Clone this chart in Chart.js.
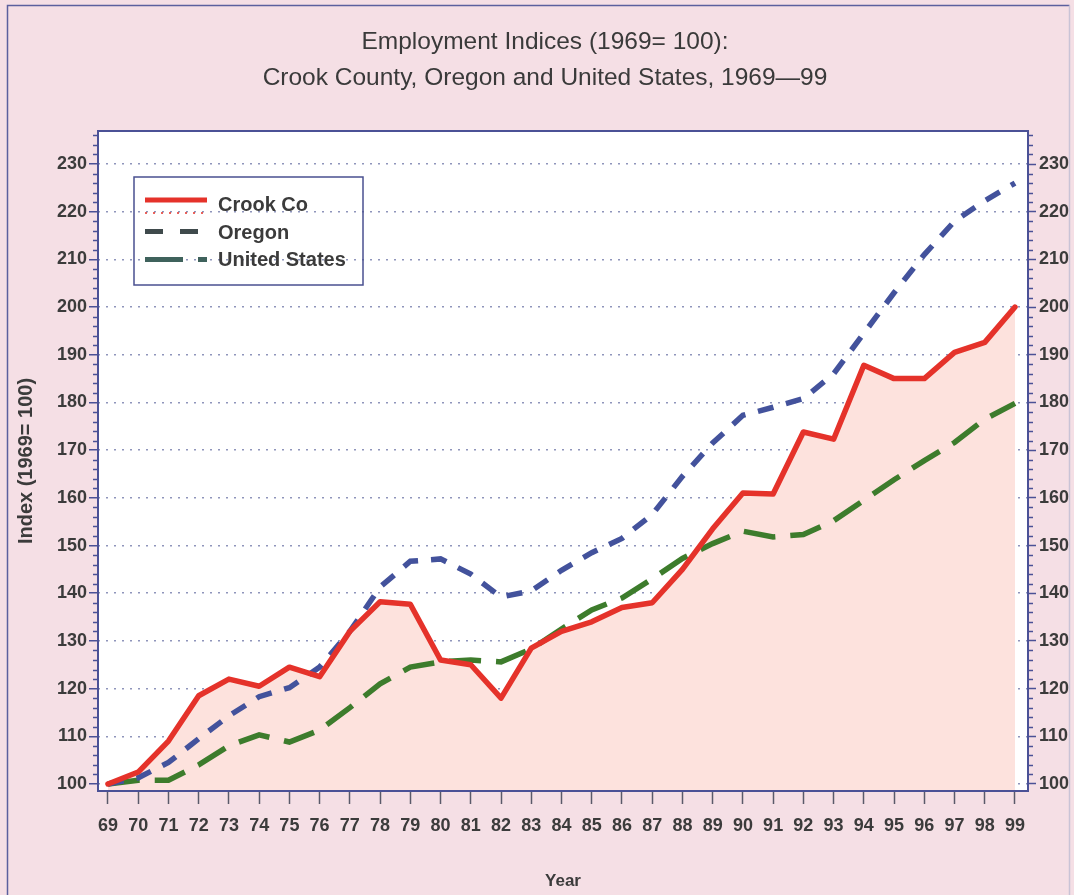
<!DOCTYPE html>
<html>
<head>
<meta charset="utf-8">
<script src="https://cdn.jsdelivr.net/npm/chart.js@4"></script>
<style>
html,body{margin:0;padding:0;background:#f5dfe5;}
#wrap{width:1074px;height:895px;position:relative;}
canvas{display:block;}
</style>
</head>
<body>
<div id="wrap"><canvas id="c" width="1074" height="895"></canvas></div>
<script>
// ---------- data ----------
const years = [69,70,71,72,73,74,75,76,77,78,79,80,81,82,83,84,85,86,87,88,89,90,91,92,93,94,95,96,97,98,99];
const crookCo = [100,102.5,109,118.5,122,120.5,124.5,122.5,132,138.2,137.7,126,125,118,128.5,132,134,137,138,145,153.5,161,160.8,173.8,172.3,187.8,185,185,190.5,192.6,200];
const oregon = [100,101.3,104.5,109.5,114.3,118.3,120.2,124.5,132,141.3,146.7,147.2,144,139.2,140.5,144.8,148.5,151.5,156.5,164.5,171.5,177.3,179,180.8,186,194.5,203,211,218,222.3,226];
const unitedStates = [100,100.8,100.8,104,108,110.3,108.8,111.3,116,121,124.5,125.6,126,125.6,128.3,132.5,136.5,139,143,147.3,150.4,153,151.8,152.3,155.2,159.5,163.8,167.8,171.6,176.5,179.8];
const yTickValues = [100,110,120,130,140,150,160,170,180,190,200,210,220,230];
const seriesNames = ['Crook Co','Oregon','United States'];
const titleLines = ['Employment Indices (1969= 100):','Crook County, Oregon and United States, 1969\u201499'];
const xTitle = 'Year';
const yTitle = 'Index (1969= 100)';

// ---------- helpers ----------
function hasFont(name){
  const c = document.createElement('canvas').getContext('2d');
  const s = '0123456789 abcdefghij ABC';
  c.font = 'bold 40px monospace'; const w1 = c.measureText(s).width;
  c.font = 'bold 40px "' + name + '", monospace'; const w2 = c.measureText(s).width;
  return Math.abs(w1 - w2) > 0.5;
}
const NARROW = hasFont('Liberation Sans Narrow');
const tickFont = NARROW ? {family:'"Liberation Sans Narrow"', size:21, weight:'bold'}
                        : {family:'"Liberation Sans", Arial, sans-serif', size:18, weight:'bold'};
const yearFont = NARROW ? {family:'"Liberation Sans Narrow"', size:20, weight:'bold'}
                        : {family:'"Liberation Sans", Arial, sans-serif', size:17, weight:'bold'};
const textColor = '#3b3b3b';
const axisColor = '#4b5196';
const toPoints = arr => arr.map((v,i) => ({x: years[i], y: v}));

const X_MIN = 68.67, X_MAX = 99.43, Y_MIN = 98.53, Y_MAX = 236.92;

// ---------- plugins ----------
const backgroundPlugin = {
  id: 'bgPlugin',
  beforeDraw(chart){
    const {ctx, chartArea:a} = chart;
    ctx.save();
    ctx.fillStyle = '#f5dfe5';
    ctx.fillRect(0,0,chart.width,chart.height);
    ctx.fillStyle = '#ffffff';
    ctx.fillRect(a.left, a.top, a.right-a.left, a.bottom-a.top);
    ctx.restore();
  },
  afterDraw(chart){
    const {ctx, chartArea:a} = chart;
    ctx.save();
    ctx.strokeStyle = axisColor;
    ctx.lineWidth = 2;
    ctx.strokeRect(a.left, a.top, a.right-a.left, a.bottom-a.top);
    ctx.lineWidth = 1.5;
    ['y','y2'].forEach(id => {
      const s = chart.scales[id];
      for (let v = Math.ceil(s.min/2)*2; v <= s.max; v += 2){
        if (v % 10 === 0) continue;
        const py = Math.round(s.getPixelForValue(v)) + 0.5;
        ctx.beginPath();
        if (id === 'y'){ ctx.moveTo(a.left-5, py); ctx.lineTo(a.left, py); }
        else { ctx.moveTo(a.right, py); ctx.lineTo(a.right+5, py); }
        ctx.stroke();
      }
    });
    ctx.strokeStyle = '#5b609e';
    ctx.lineWidth = 1.5;
    ctx.beginPath();
    ctx.moveTo(7.5, chart.height); ctx.lineTo(7.5, 5.5); ctx.lineTo(1069.5, 5.5);
    ctx.stroke();
    ctx.strokeStyle = '#c9c3d6';
    ctx.beginPath(); ctx.moveTo(1069.5, 5.5); ctx.lineTo(1069.5, chart.height); ctx.stroke();
    ctx.restore();
  }
};

const legendPlugin = {
  id: 'boxLegend',
  afterDatasetsDraw(chart){
    const {ctx, chartArea:a} = chart;
    const bx = a.left + 36, by = a.top + 46, bw = 229, bh = 108;
    ctx.save();
    ctx.strokeStyle = '#4a5090';
    ctx.lineWidth = 1.5;
    ctx.strokeRect(bx, by, bw, bh);
    const sx = bx + 11, tx = bx + 84;
    const rows = [by + 28, by + 56, by + 83];
    ctx.lineCap = 'butt';
    ctx.strokeStyle = '#e5322a'; ctx.lineWidth = 5; ctx.setLineDash([]);
    ctx.beginPath(); ctx.moveTo(sx, rows[0]-5); ctx.lineTo(sx+62, rows[0]-5); ctx.stroke();
    ctx.lineWidth = 1.5; ctx.setLineDash([2,6]);
    ctx.beginPath(); ctx.moveTo(sx, rows[0]+8); ctx.lineTo(sx+62, rows[0]+8); ctx.stroke();
    ctx.strokeStyle = '#3f4a4c'; ctx.lineWidth = 5; ctx.setLineDash([18,17]);
    ctx.beginPath(); ctx.moveTo(sx, rows[1]-1.5); ctx.lineTo(sx+54, rows[1]-1.5); ctx.stroke();
    ctx.strokeStyle = '#3f625c'; ctx.setLineDash([38,15,9,100]);
    ctx.beginPath(); ctx.moveTo(sx, rows[2]-0.5); ctx.lineTo(sx+62, rows[2]-0.5); ctx.stroke();
    ctx.setLineDash([]);
    ctx.fillStyle = textColor;
    ctx.font = 'bold 20px "Liberation Sans", Arial, sans-serif';
    ctx.textBaseline = 'middle';
    ctx.textAlign = 'left';
    seriesNames.forEach((n,i) => ctx.fillText(n, tx, rows[i]));
    ctx.restore();
  }
};

// ---------- chart ----------
new Chart(document.getElementById('c'), {
  type: 'line',
  data: {
    datasets: [
      {label: seriesNames[0], data: toPoints(crookCo), borderColor:'#e5322a', backgroundColor:'#fde2dd',
       borderWidth:5.5, fill:'start', pointRadius:0, tension:0, borderJoinStyle:'round', borderCapStyle:'round'},
      {label: seriesNames[1], data: toPoints(oregon), borderColor:'#43529c', borderWidth:5.5,
       borderDash:[16,13], fill:false, pointRadius:0, tension:0},
      {label: seriesNames[2], data: toPoints(unitedStates), borderColor:'#3d7c2c', borderWidth:5.5,
       borderDash:[32,15], fill:false, pointRadius:0, tension:0}
    ]
  },
  options: {
    responsive: false,
    animation: false,
    devicePixelRatio: 1,
    layout: {padding: {left:16, right:0, top:0, bottom:0}},
    plugins: {
      legend: {display:false},
      tooltip: {enabled:false},
      filler: {drawTime: 'beforeDatasetsDraw'},
      title: {
        display: true,
        text: titleLines,
        color: '#3a3a3a',
        font: {family:'"Liberation Sans", Arial, sans-serif', size:24.5, weight:'normal', lineHeight: 36/24.5},
        padding: {top:24, bottom:35}
      }
    },
    scales: {
      x: {
        type: 'linear', position: 'bottom', min: X_MIN, max: X_MAX,
        afterBuildTicks: s => { s.ticks = years.map(v => ({value: v})); },
        afterFit: s => { s.height = 104; },
        ticks: {autoSkip:false, maxRotation:0, minRotation:0, padding:11, color:textColor, font:tickFont,
                callback: v => String(v)},
        grid: {drawOnChartArea:false, drawTicks:true, tickLength:13, tickColor:'#5a5a6a', tickWidth:1.5},
        border: {display:false},
        title: {display:true, text:xTitle, color:textColor, font:yearFont, padding:{top:0, bottom:3}}
      },
      y: {
        type: 'linear', position: 'left', min: Y_MIN, max: Y_MAX,
        afterBuildTicks: s => { s.ticks = yTickValues.map(v => ({value: v})); },
        afterFit: s => { s.width = 82; },
        ticks: {padding:2, color:textColor, font:tickFont},
        grid: {color:'#8f95bb', lineWidth:1.5, tickLength:9, tickColor:axisColor, tickWidth:1.5},
        border: {display:false, dash:[2,6]},
        title: {display:true, text:yTitle, color:textColor,
                font:{family:'"Liberation Sans", Arial, sans-serif', size:20, weight:'bold', lineHeight:1},
                padding:{top:0, bottom:0}}
      },
      y2: {
        type: 'linear', position: 'right', min: Y_MIN, max: Y_MAX,
        afterBuildTicks: s => { s.ticks = yTickValues.map(v => ({value: v})); },
        afterFit: s => { s.width = 46; },
        ticks: {padding:3, color:textColor, font:tickFont},
        grid: {drawOnChartArea:false, tickLength:8, tickColor:axisColor, tickWidth:1.5},
        border: {display:false}
      }
    }
  },
  plugins: [backgroundPlugin, legendPlugin]
});
</script>
</body>
</html>
